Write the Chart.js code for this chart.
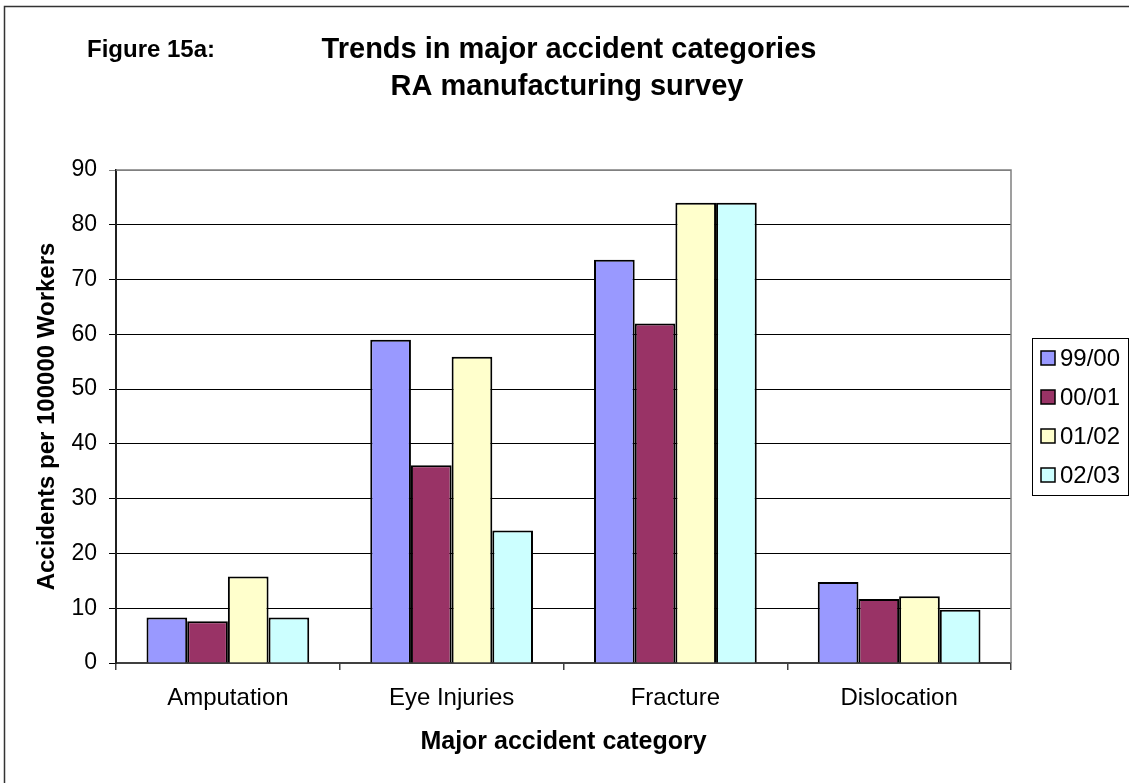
<!DOCTYPE html>
<html>
<head>
<meta charset="utf-8">
<title>Trends in major accident categories</title>
<script src="https://cdn.jsdelivr.net/npm/chart.js@4/dist/chart.umd.min.js"></script>
<style>
  html, body { margin: 0; padding: 0; background: #ffffff; overflow: hidden; }
  canvas { display: block; }
</style>
</head>
<body>
<canvas id="chart" width="1129" height="783"></canvas>
<script>
// Accidents per 100000 workers, RA manufacturing survey
const categories = ['Amputation', 'Eye Injuries', 'Fracture', 'Dislocation'];
const seriesLabels = ['99/00', '00/01', '01/02', '02/03'];
const rate9900 = [8.3, 59.0, 73.6, 14.8];
const rate0001 = [7.6, 36.1, 62.0, 11.7];
const rate0102 = [15.8, 55.9, 84.0, 12.2];
const rate0203 = [8.3, 24.2, 84.0, 9.7];
const seriesColors = ['#9999FF', '#993366', '#FFFFCC', '#CCFFFF'];
const yMin = 0, yMax = 90, yStep = 10;

const figureLabel = 'Figure 15a:';
const titleLines = ['Trends in major accident categories', 'RA manufacturing survey'];
const xTitle = 'Major accident category';
const yTitle = 'Accidents per 100000 Workers';

const FONT = '"Liberation Sans", Arial, Helvetica, sans-serif';
Chart.defaults.font.family = FONT;
Chart.defaults.color = '#000000';

const seriesValues = [rate9900, rate0001, rate0102, rate0203];

// Page frame, headings, plot outline and boxed legend
const decorations = {
  id: 'decorations',
  afterDraw(chart) {
    const ctx = chart.ctx;
    const area = chart.chartArea;
    ctx.save();

    // outer frame (top and left edges)
    ctx.strokeStyle = '#333333';
    ctx.lineWidth = 1.5;
    ctx.beginPath();
    ctx.moveTo(4.5, chart.height);
    ctx.lineTo(4.5, 6.5);
    ctx.lineTo(chart.width, 6.5);
    ctx.stroke();

    // plot outline: top and right
    ctx.strokeStyle = '#808080';
    ctx.lineWidth = 1.5;
    ctx.beginPath();
    ctx.moveTo(area.left, area.top);
    ctx.lineTo(area.right, area.top);
    ctx.lineTo(area.right, area.bottom);
    ctx.stroke();

    // headings
    ctx.fillStyle = '#000000';
    ctx.textBaseline = 'alphabetic';
    ctx.textAlign = 'left';
    ctx.font = 'bold 24px ' + FONT;
    ctx.fillText(figureLabel, 87, 57);
    ctx.textAlign = 'center';
    ctx.font = 'bold 29px ' + FONT;
    ctx.fillText(titleLines[0], 569, 58);
    ctx.fillText(titleLines[1], 567, 95);

    // legend
    const lx = 1032, ly = 338, lw = 96, lh = 157;
    ctx.fillStyle = '#ffffff';
    ctx.fillRect(lx, ly, lw, lh);
    ctx.strokeStyle = '#000000';
    ctx.lineWidth = 1;
    ctx.strokeRect(lx + 0.5, ly + 0.5, lw, lh);
    ctx.font = '24px ' + FONT;
    ctx.textAlign = 'left';
    ctx.textBaseline = 'middle';
    chart.data.datasets.forEach((ds, i) => {
      const cy = 358 + i * 39;
      ctx.fillStyle = ds.backgroundColor;
      ctx.fillRect(1041, cy - 7, 14, 14);
      ctx.strokeStyle = '#000000';
      ctx.lineWidth = 1.5;
      ctx.strokeRect(1041, cy - 7, 14, 14);
      ctx.fillStyle = '#000000';
      ctx.fillText(ds.label, 1060, cy + 1);
    });
    ctx.restore();
  }
};

new Chart(document.getElementById('chart'), {
  type: 'bar',
  data: {
    labels: categories,
    datasets: seriesLabels.map((label, i) => ({
      label: label,
      data: seriesValues[i],
      backgroundColor: seriesColors[i],
      borderColor: '#000000',
      borderWidth: 2,
      categoryPercentage: 4 / 5.5,
      barPercentage: 1.0
    }))
  },
  options: {
    responsive: false,
    animation: false,
    devicePixelRatio: 1,
    layout: { padding: { top: 170, left: 0, right: 118, bottom: 25 } },
    plugins: {
      legend: { display: false },
      title: { display: false },
      tooltip: { enabled: false }
    },
    scales: {
      x: {
        afterFit(scale) { scale.height = 95; },
        grid: {
          offset: true,
          drawOnChartArea: false,
          drawTicks: true,
          tickLength: 7,
          color: '#404040',
          lineWidth: 1.5
        },
        border: { display: true, color: '#404040', width: 2 },
        ticks: {
          padding: 14,
          font: { size: 24 },
          color: '#000000',
          maxRotation: 0
        },
        title: {
          display: true,
          text: xTitle,
          font: { size: 25, weight: 'bold' },
          color: '#000000',
          padding: { top: 0, bottom: 1 }
        }
      },
      y: {
        min: yMin,
        max: yMax,
        afterFit(scale) { scale.width = 116; },
        ticks: {
          stepSize: yStep,
          padding: 12,
          font: { size: 23 },
          color: '#000000'
        },
        grid: {
          drawTicks: true,
          tickLength: 7,
          color: (c) => (c.tick && c.tick.value === yMax) ? '#808080' : '#000000',
          lineWidth: 1
        },
        border: { display: true, color: '#202020', width: 2 },
        title: {
          display: true,
          text: yTitle,
          font: { size: 24, weight: 'bold' },
          color: '#000000',
          padding: { top: 33, bottom: 0 }
        }
      }
    }
  },
  plugins: [decorations]
});
</script>
</body>
</html>
